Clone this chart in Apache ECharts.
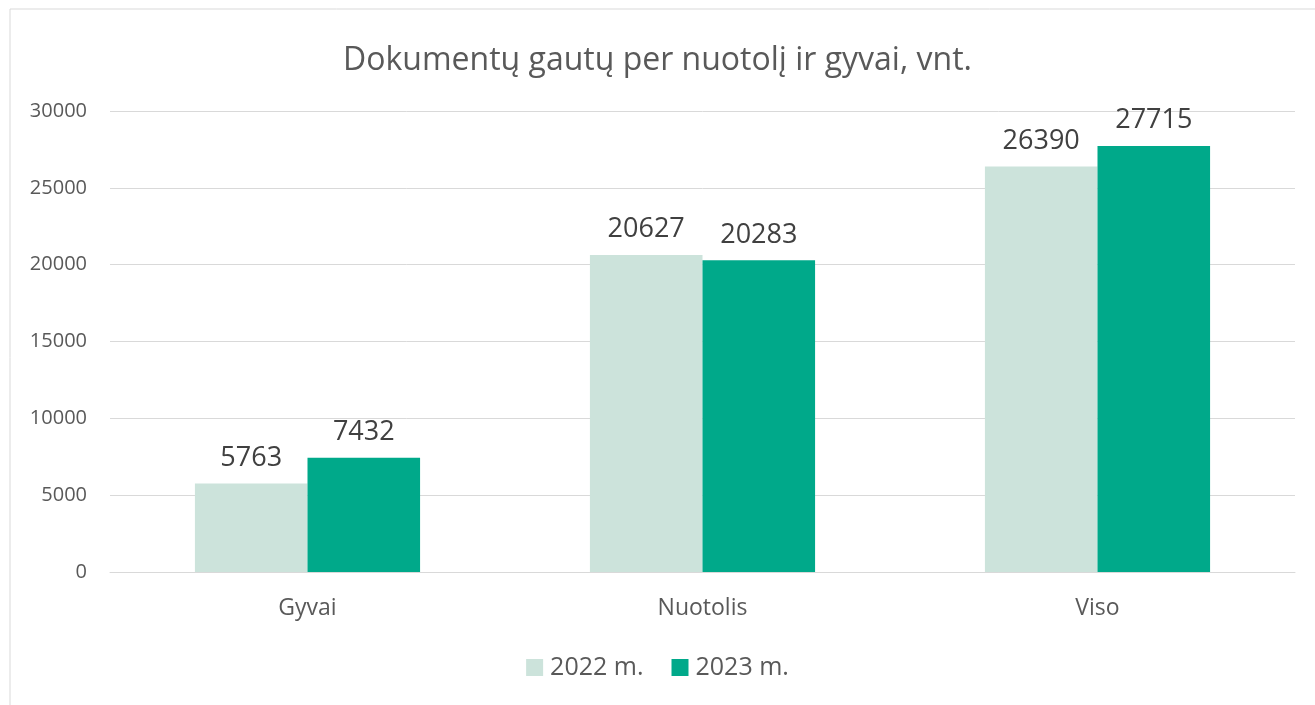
<!DOCTYPE html>
<html>
<head>
<meta charset="utf-8">
<script src="https://cdn.jsdelivr.net/npm/echarts@6/dist/echarts.min.js"></script>
<style>
  html, body { margin: 0; padding: 0; background: #fff; }
  #chart { width: 1315px; height: 705px; }
</style>
</head>
<body>
<div id="chart"></div>
<script>
var categories = ['Gyvai', 'Nuotolis', 'Viso'];
var values2022 = [5763, 20627, 26390];
var values2023 = [7432, 20283, 27715];
var seriesNames = ['2022 m.', '2023 m.'];

var chartDom = document.getElementById('chart');
var myChart = echarts.init(chartDom);
var fontFamily = '"Open Sans", "Noto Sans", sans-serif';

var option = {
  animation: false,
  textStyle: { fontFamily: fontFamily },
  title: {
    text: 'Dokumentų gautų per nuotolį ir gyvai, vnt.',
    left: 'center',
    top: 40,
    textStyle: { fontSize: 32, fontWeight: 'normal', color: '#595959', fontFamily: fontFamily }
  },
  graphic: [{
    type: 'rect',
    shape: { x: 10, y: 9, width: 1400, height: 800 },
    style: { fill: 'none', stroke: '#d9d9d9', lineWidth: 1 },
    silent: true
  }],
  legend: {
    bottom: 20,
    left: 'center',
    itemWidth: 17,
    itemHeight: 17,
    itemGap: 28,
    icon: 'rect',
    textStyle: { fontSize: 25, color: '#595959', fontFamily: fontFamily, padding: [0, 0, 0, 2] },
    data: seriesNames
  },
  grid: { left: 110, right: 20, top: 111, bottom: 133, containLabel: false },
  xAxis: {
    type: 'category',
    data: categories,
    axisLine: { lineStyle: { color: '#d9d9d9', width: 1 } },
    axisTick: { show: false },
    axisLabel: { fontSize: 23, color: '#595959', margin: 25, fontFamily: fontFamily }
  },
  yAxis: {
    type: 'value',
    min: 0,
    max: 30000,
    interval: 5000,
    axisLine: { show: false },
    axisTick: { show: false },
    splitLine: { lineStyle: { color: '#d9d9d9', width: 1 } },
    axisLabel: {
      fontSize: 20, color: '#595959', margin: 23, fontFamily: fontFamily,
      formatter: function (v) { return String(v); }
    }
  },
  series: [
    {
      name: seriesNames[0],
      type: 'bar',
      data: values2022,
      barGap: '0%',
      barCategoryGap: '43%',
      itemStyle: { color: '#cce3db' },
      label: { show: true, position: 'top', distance: 12, fontSize: 27, color: '#404040', fontFamily: fontFamily }
    },
    {
      name: seriesNames[1],
      type: 'bar',
      data: values2023,
      barGap: '0%',
      barCategoryGap: '43%',
      itemStyle: { color: '#00a98a' },
      label: { show: true, position: 'top', distance: 12, fontSize: 27, color: '#404040', fontFamily: fontFamily }
    }
  ]
};

option && myChart.setOption(option);
</script>
</body>
</html>
